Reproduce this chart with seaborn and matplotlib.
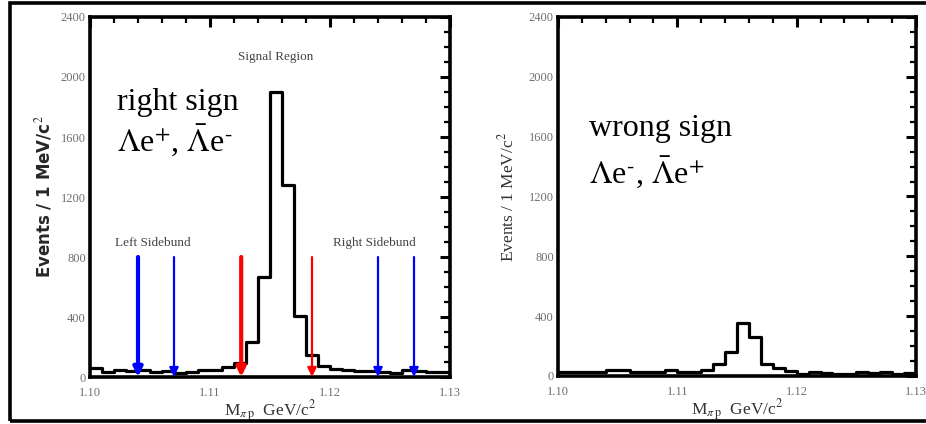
import numpy as np
import pandas as pd
import seaborn as sns
import matplotlib
matplotlib.use("Agg")
import matplotlib.pyplot as plt
from matplotlib.patches import Rectangle
from matplotlib.ticker import MultipleLocator

# 1 MeV bins of the pi-p invariant mass
mass_lo, mass_hi, n_bins = 1.100, 1.130, 30

# right-sign candidates (Lambda e+, anti-Lambda e-)
right_sign = [60, 35, 45, 40, 45, 35, 40, 30, 35, 45,
              50, 65, 95, 235, 665, 1900, 1280, 405, 145, 75,
              55, 45, 40, 40, 35, 30, 45, 40, 35, 35]

# wrong-sign candidates (Lambda e-, anti-Lambda e+)
wrong_sign = [28, 28, 28, 28, 42, 42, 28, 28, 28, 40,
              28, 28, 42, 82, 162, 352, 258, 80, 55, 35,
              15, 25, 20, 15, 15, 25, 22, 25, 15, 20]

# sideband / signal-region boundaries (GeV/c^2) and arrow styles
cut_values = [1.104, 1.107, 1.1126, 1.1185, 1.124, 1.127]
cut_colors = ["blue", "blue", "red", "red", "blue", "blue"]
cut_widths = [3.0, 1.6, 3.0, 1.6, 1.6, 1.6]
cut_top = 800

sns.set_theme(style="white")
plt.rcParams["font.family"] = ["Liberation Serif", "DejaVu Serif"]
plt.rcParams["mathtext.fontset"] = "stix"

fig = plt.figure(figsize=(9.26, 4.24), dpi=100)
W, H = 926, 424

def add_axes(x0, x1, y0, y1):
    return fig.add_axes([x0 / W, 1 - y1 / H, (x1 - x0) / W, (y1 - y0) / H])

ax_l = add_axes(90, 450, 17, 377)
ax_r = add_axes(558, 916, 17, 376)

width = (mass_hi - mass_lo) / n_bins
centers = mass_lo + width * (np.arange(n_bins) + 0.5)
df = pd.DataFrame({"mass": np.concatenate([centers, centers]),
                   "events": right_sign + wrong_sign,
                   "sample": ["right"] * n_bins + ["wrong"] * n_bins})

for ax, sample in [(ax_l, "right"), (ax_r, "wrong")]:
    sub = df[df["sample"] == sample]
    sns.histplot(data=sub, x="mass", weights="events", bins=n_bins,
                 binrange=(mass_lo, mass_hi),
                 element="step", fill=False, color="black", linewidth=2.3, ax=ax)
    ax.set_xlim(1.10, 1.13)
    ax.set_ylim(0, 2400)
    ax.xaxis.set_major_locator(MultipleLocator(0.01))
    ax.xaxis.set_minor_locator(MultipleLocator(0.002))
    ax.yaxis.set_major_locator(MultipleLocator(400))
    ax.yaxis.set_minor_locator(MultipleLocator(100))
    ax.set_xticks([1.10, 1.11, 1.12, 1.13])
    ax.set_xticklabels(["1.10", "1.11", "1.12", "1.13"])
    ax.tick_params(which="both", direction="in", top=True, right=True,
                   labelsize=9, labelcolor="#707070", colors="black")
    ax.tick_params(which="major", length=7, width=2.2, pad=3)
    ax.tick_params(which="minor", length=4.5, width=1.6)
    ax.tick_params(axis="x", which="major", pad=7)
    for sp in ax.spines.values():
        sp.set_visible(True)
        sp.set_color("black")
        sp.set_linewidth(2.6)
    ax.set_xlabel(r"M$_{\pi\,\mathrm{p}}$  GeV/c$^{2}$", fontsize=12.5,
                  color="#333333", labelpad=0)
    ax.set_ylabel("")

# sideband and signal-region markers
for xv, col, lw in zip(cut_values, cut_colors, cut_widths):
    ax_l.annotate("", xy=(xv, 0), xytext=(xv, cut_top),
                  arrowprops=dict(arrowstyle="-|>,head_length=0.45,head_width=0.22",
                                  color=col, lw=lw, shrinkA=0, shrinkB=0))

ax_l.text(1.1155, 2110, "Signal Region", fontsize=9.5, color="#444444", ha="center")
ax_l.text(1.1052, 875, "Left Sidebund", fontsize=9.5, color="#444444", ha="center")
ax_l.text(1.1237, 875, "Right Sidebund", fontsize=9.5, color="#444444", ha="center")

ax_l.text(1.10225, 1780, "right sign", fontsize=23, color="black", va="baseline")
ax_l.text(1.10225, 1500, r"$\Lambda$e$^{+}$, $\bar{\Lambda}$e$^{\text{-}}$",
          fontsize=23, color="black", va="baseline")
ax_r.text(1.1026, 1604, "wrong sign", fontsize=23, color="black", va="baseline")
ax_r.text(1.1026, 1282, r"$\Lambda$e$^{\text{-}}$, $\bar{\Lambda}$e$^{+}$",
          fontsize=23, color="black", va="baseline")

ax_l.set_ylabel(r"Events / 1 MeV/c$^{2}$", fontsize=12, fontweight="bold",
                family=["DejaVu Sans"], labelpad=5)
ax_r.set_ylabel(r"Events / 1 MeV/c$^{2}$", fontsize=12.5, color="#333333", labelpad=8)

# outer frame
fig.add_artist(Rectangle((10 / W, 3 / H), 1.0, 1 - 6 / H, fill=False,
                         lw=2.6, edgecolor="black", transform=fig.transFigure,
                         clip_on=False))

fig.savefig("out.png", dpi=100)
